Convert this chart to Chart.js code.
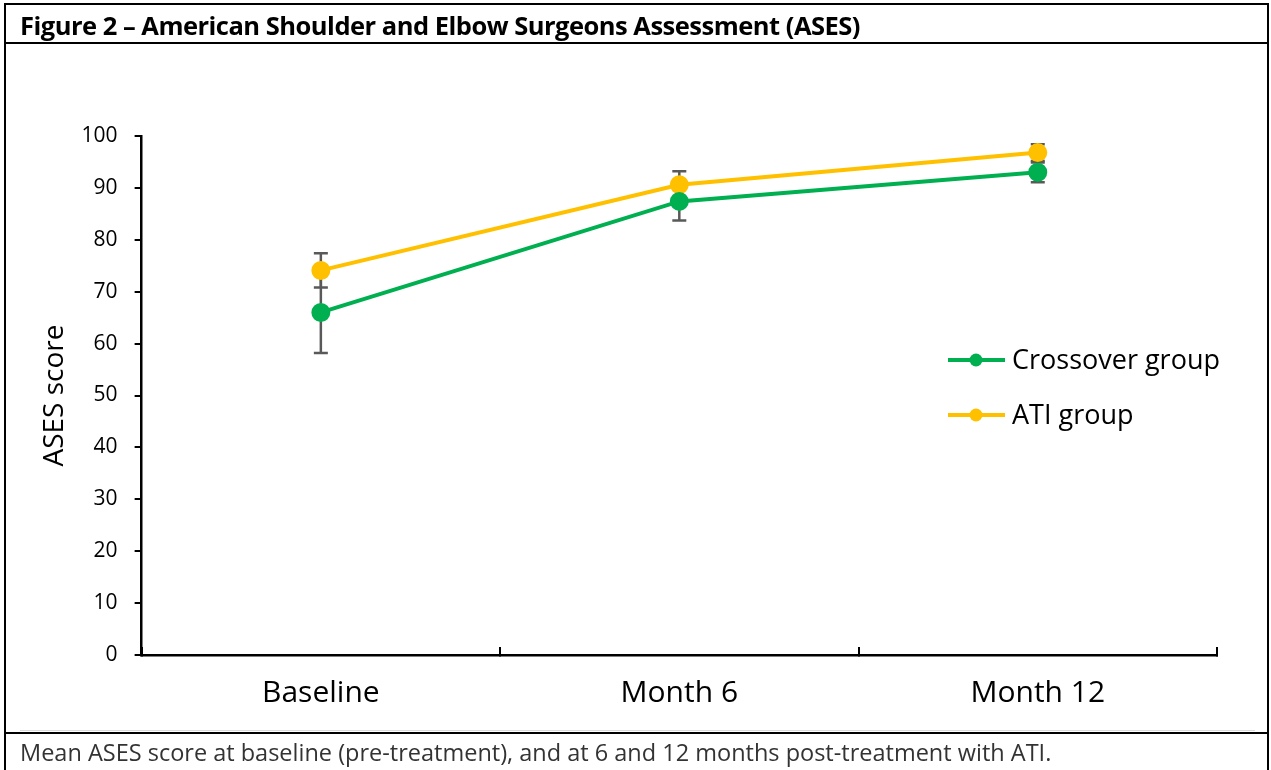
<!DOCTYPE html>
<html>
<head>
<meta charset="utf-8">
<script src="https://cdn.jsdelivr.net/npm/chart.js@4.4.1/dist/chart.umd.min.js"></script>
<style>
  html, body { margin: 0; padding: 0; background: #fff; }
  body { width: 1271px; height: 770px; position: relative; overflow: hidden; font-family: "Open Sans", sans-serif; }
  #chart { position: absolute; left: 0; top: 0; }
  .rule { position: absolute; background: #000; }
  #title { position: absolute; left: 20px; top: 8px; font-weight: bold; font-size: 25.5px; letter-spacing: -0.5px; color: #000; white-space: nowrap; }
  #caption { position: absolute; left: 20px; top: 736px; font-size: 23.5px; color: #333; white-space: nowrap; }
</style>
</head>
<body>
<canvas id="chart" width="1271" height="770"></canvas>
<div class="rule" style="left:4px; top:3px; width:1265px; height:2px;"></div>
<div class="rule" style="left:4px; top:3px; width:2px; height:767px;"></div>
<div class="rule" style="left:1267px; top:3px; width:2px; height:767px;"></div>
<div class="rule" style="left:4px; top:42px; width:1265px; height:1.5px;"></div>
<div class="rule" style="left:20px; top:730px; width:1235px; height:1px; background:#d9d9d9;"></div>
<div class="rule" style="left:4px; top:732px; width:1265px; height:2px;"></div>
<div id="title">Figure 2 – American Shoulder and Elbow Surgeons Assessment (ASES)</div>
<div id="caption">Mean ASES score at baseline (pre-treatment), and at 6 and 12 months post-treatment with ATI.</div>
<script>
// DATA
const categories = ["Baseline", "Month 6", "Month 12"];
const crossoverValues = [66.0, 87.4, 93.0];
const crossoverErrors = [7.8, 3.7, 1.9];
const atiValues = [74.1, 90.6, 96.8];
const atiErrors = [3.3, 2.6, 1.6];
const yTicks = [0, 10, 20, 30, 40, 50, 60, 70, 80, 90, 100];

const GREEN = "#00b050";
const GOLD = "#ffc000";
const FONT = "'Open Sans', sans-serif";

// error bars, drawn under the lines
const errorBars = {
    id: "errorBars",
    beforeDatasetsDraw(chart) {
        const ctx = chart.ctx;
        const yScale = chart.scales.y;
        ctx.save();
        ctx.strokeStyle = "#595959";
        ctx.lineWidth = 2.5;
        chart.data.datasets.forEach((ds, di) => {
            const meta = chart.getDatasetMeta(di);
            ds.data.forEach((v, i) => {
                const x = meta.data[i].x;
                const e = ds.errors[i];
                const yTop = yScale.getPixelForValue(v + e);
                const yBot = yScale.getPixelForValue(v - e);
                ctx.beginPath();
                ctx.moveTo(x, yTop); ctx.lineTo(x, yBot);
                ctx.moveTo(x - 7, yTop); ctx.lineTo(x + 7, yTop);
                ctx.moveTo(x - 7, yBot); ctx.lineTo(x + 7, yBot);
                ctx.stroke();
            });
        });
        ctx.restore();
    }
};

// legend: line with a dot, placed inside the plot on the right
const lineLegend = {
    id: "lineLegend",
    afterDraw(chart) {
        const ctx = chart.ctx;
        const x0 = 948, rowY = [360, 415];
        ctx.save();
        chart.data.datasets.forEach((ds, i) => {
            const y = rowY[i];
            ctx.strokeStyle = ds.borderColor;
            ctx.lineWidth = 4;
            ctx.beginPath();
            ctx.moveTo(x0, y); ctx.lineTo(x0 + 57, y);
            ctx.stroke();
            ctx.fillStyle = ds.borderColor;
            ctx.beginPath();
            ctx.arc(x0 + 28, y, 6.5, 0, Math.PI * 2);
            ctx.fill();
            ctx.fillStyle = "#000";
            ctx.font = "27px " + FONT;
            ctx.textBaseline = "middle";
            ctx.fillText(ds.label, x0 + 64, y + 1);
        });
        ctx.restore();
    }
};

new Chart(document.getElementById("chart"), {
    type: "line",
    data: {
        labels: categories,
        datasets: [
            {
                label: "Crossover group",
                data: crossoverValues,
                errors: crossoverErrors,
                borderColor: GREEN,
                backgroundColor: GREEN,
                borderWidth: 4,
                pointRadius: 7.5,
                pointHoverRadius: 7.5,
                tension: 0
            },
            {
                label: "ATI group",
                data: atiValues,
                errors: atiErrors,
                borderColor: GOLD,
                backgroundColor: GOLD,
                borderWidth: 4,
                pointRadius: 7.5,
                pointHoverRadius: 7.5,
                tension: 0
            }
        ]
    },
    options: {
        responsive: false,
        animation: false,
        devicePixelRatio: 1,
        layout: { padding: { left: 45, top: 136, right: 54, bottom: 31 } },
        plugins: {
            legend: { display: false },
            tooltip: { enabled: false }
        },
        scales: {
            x: {
                offset: true,
                grid: { offset: true, drawOnChartArea: false, color: "#000", lineWidth: 2, tickLength: -8 },
                border: { color: "#000", width: 2.5 },
                ticks: { color: "#000", font: { family: FONT, size: 30 }, padding: 28 }
            },
            y: {
                min: 0,
                max: 100,
                afterBuildTicks(scale) { scale.ticks = yTicks.map(v => ({ value: v })); },
                grid: { drawOnChartArea: false, color: "#000", lineWidth: 2, tickLength: 7 },
                border: { color: "#000", width: 2.5 },
                ticks: { color: "#000", font: { family: FONT, size: 21 }, padding: 17 },
                title: {
                    display: true,
                    text: "ASES score",
                    color: "#000",
                    font: { family: FONT, size: 28, lineHeight: 0.7 },
                    padding: 0
                }
            }
        }
    },
    plugins: [errorBars, lineLegend]
});
</script>
</body>
</html>
